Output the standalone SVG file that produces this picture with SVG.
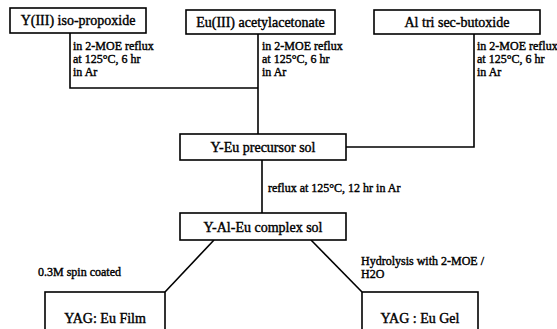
<svg xmlns="http://www.w3.org/2000/svg" width="557" height="329" viewBox="0 0 557 329">
<style>
.box{fill:#fff;stroke:#000;stroke-width:1.6}
.ln{fill:none;stroke:#000;stroke-width:1.6}
text{font-family:"Liberation Serif","Times New Roman",serif;font-size:12px;fill:#000;stroke:#000;stroke-width:0.4}
.b{font-size:14px;text-anchor:middle}
</style>
<rect width="557" height="329" fill="#fff"/>
<g id="connectors">
<polyline class="ln" points="70,33 70,88 258,88"/>
<line class="ln" x1="258" y1="34" x2="258" y2="134"/>
<polyline class="ln" points="474,34 474,147 346,147"/>
<line class="ln" x1="262" y1="160" x2="262" y2="213"/>
<line class="ln" x1="214" y1="240" x2="165" y2="292"/>
<line class="ln" x1="311" y1="240" x2="362" y2="292"/>
</g>
<g id="n1"><rect class="box" x="10" y="8" width="136" height="25"/><text x="78" y="25" class="b">Y(III) iso-propoxide</text></g>
<g id="n2"><rect class="box" x="186" y="10" width="149" height="24"/><text x="260.5" y="27" class="b">Eu(III) acetylacetonate</text></g>
<g id="n3"><rect class="box" x="374" y="10" width="166" height="24"/><text x="457" y="27" class="b">Al tri sec-butoxide</text></g>
<g id="l1"><text x="73" y="50">in 2-MOE reflux</text><text x="73" y="63">at 125°C, 6 hr</text><text x="73" y="76">in Ar</text></g>
<g id="l2"><text x="262" y="50">in 2-MOE reflux</text><text x="262" y="63">at 125°C, 6 hr</text><text x="262" y="76">in Ar</text></g>
<g id="l3" style="font-size:11.2px"><text x="477" y="50">in 2-MOE reflux</text><text x="477" y="63">at 125°C, 6 hr</text><text x="477" y="76">in Ar</text></g>
<g id="n4"><rect class="box" x="180" y="134" width="166" height="26"/><text x="263" y="152" class="b">Y-Eu precursor sol</text></g>
<g id="l4"><text x="268" y="192">reflux at 125°C, 12 hr in Ar</text></g>
<g id="n5"><rect class="box" x="180" y="213" width="166" height="27"/><text x="263" y="232" class="b">Y-Al-Eu  complex sol</text></g>
<g id="l5"><text x="38" y="276">0.3M spin coated</text></g>
<g id="l6"><text x="361" y="265">Hydrolysis with 2-MOE /</text><text x="361" y="278">H2O</text></g>
<g id="n6"><rect class="box" x="45" y="292" width="120" height="40"/><text x="105" y="323" class="b">YAG: Eu Film</text></g>
<g id="n7"><rect class="box" x="362" y="292" width="116" height="40"/><text x="420" y="323" class="b">YAG : Eu Gel</text></g>
</svg>
